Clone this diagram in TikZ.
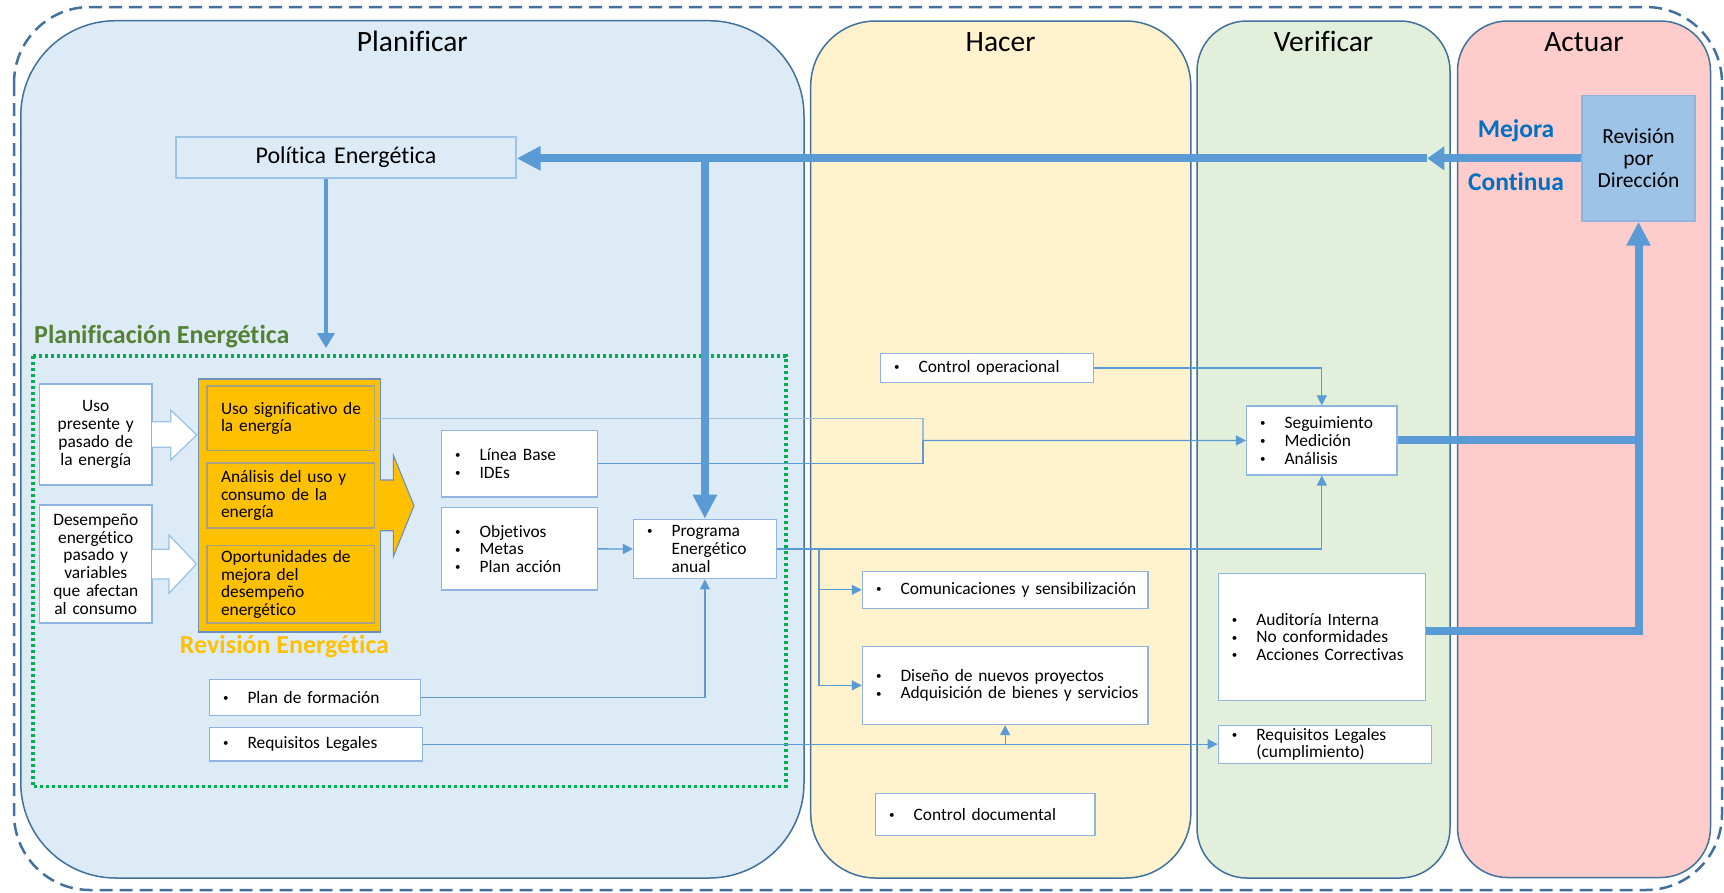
\documentclass[tikz,border=0pt]{standalone}
\usepackage{fontspec}
\setmainfont{Carlito}[Ligatures=NoCommon]
\usetikzlibrary{arrows.meta}
\definecolor{pnlb}{HTML}{41719C}
\definecolor{fplan}{HTML}{DDEBF7}
\definecolor{fhac}{HTML}{FFF2CC}
\definecolor{fver}{HTML}{E2EFDA}
\definecolor{fact}{HTML}{FFCCCC}
\definecolor{connc}{HTML}{5B9BD5}
\definecolor{connl}{HTML}{9CBFDF}
\definecolor{boxb}{HTML}{8FB4E0}
\definecolor{revf}{HTML}{9DC3E6}
\definecolor{orng}{HTML}{FFC000}
\definecolor{orngb}{HTML}{A8A27E}
\definecolor{arrb}{HTML}{6D8FBF}
\definecolor{grn}{HTML}{00B050}
\definecolor{dgrn}{HTML}{548235}
\definecolor{mejc}{HTML}{0070C0}
\newcommand\fsz[2]{\fontsize{#1}{#2}\selectfont}
\newcommand\bi[1]{\makebox[25.5pt][l]{\hspace{1pt}\raisebox{1.8pt}{\fsz{11}{11}•}}\mbox{#1}}
\newcommand\hi[1]{\hspace*{25.5pt}\mbox{#1}}
\newcommand\pbox[8][box]{%
 \pgfmathsetmacro\pbW{#6-#4}\pgfmathsetmacro\pbH{#7-#5}\pgfmathsetmacro\pbT{#6-#4-2*#3}%
 \pgfmathsetmacro\pbX{(#4+#6)/2}\pgfmathsetmacro\pbY{(#5+#7)/2}%
 \node[#1,inner xsep=#3pt,minimum width=\pbW pt,minimum height=\pbH pt,text width=\pbT pt] (#2) at (\pbX,\pbY) {#8};}
\tikzset{
 panel/.style={draw=pnlb, line width=1.5pt, rounded corners=#1},
 ptitle/.style={anchor=base, inner sep=0pt, font=\fsz{29.5}{30}},
 box/.style={draw=boxb, fill=white, line width=1.4pt, inner ysep=0pt, align=left, font=\fsz{17.4}{17.8}},
 cbox/.style={box, align=center},
 obox/.style={draw=orngb, fill=orng, line width=1.4pt, inner ysep=0pt, align=left, font=\fsz{17.4}{17.8}},
 conn/.style={draw=connc, line width=1.3pt},
 carrow/.style={conn, -{Triangle[length=10pt,width=10pt]}},
 bigline/.style={draw=connc, line width=8pt},
 bigarrow/.style={bigline, -{Triangle[length=24pt,width=23pt]}},
}
\begin{document}
\begin{tikzpicture}[x=1pt,y=-1pt]
\useasboundingbox (0,0) rectangle (1724,892);
\fill[white] (0,0) rectangle (1724,892);
% outer dashed frame
\draw[draw=pnlb, line width=2.5pt, dash pattern=on 13pt off 7pt, rounded corners=76pt] (14,7) rectangle (1722,890);
% panels
\draw[panel=95pt, fill=fplan] (20.8,20.7) rectangle (804,878);
\draw[panel=65pt, fill=fhac] (810.7,21) rectangle (1190.8,878);
\draw[panel=50pt, fill=fver] (1197,21) rectangle (1450,878);
\draw[panel=50pt, fill=fact] (1457.5,21) rectangle (1710.5,877.5);
\node[ptitle] (tplan) at (412.4,51) {Planificar};
\node[ptitle] (thac) at (1000.7,51) {Hacer};
\node[ptitle] (tver) at (1323.5,51) {Verificar};
\node[ptitle] (tact) at (1584,51) {Actuar};
% planning area
\draw[draw=grn, line width=3.5pt, dash pattern=on 3pt off 3pt] (33,356) rectangle (786,786.7);
\node[anchor=base west, inner sep=0pt, font=\bfseries\fsz{26}{26}, text=dgrn] (plab) at (34,343) {Planificación Energética};
\node[anchor=base, inner sep=0pt, font=\bfseries\fsz{26}{26}, text=orng] (rlab) at (284.5,653) {Revisión Energética};
% top boxes
\pbox[cbox, fill=fplan, draw=revf, font=\fsz{24}{26}]{pol}{2}{176}{137}{516}{178}{Política Energética}
\pbox[cbox, fill=revf, draw=boxb, font=\fsz{21.5}{22}]{revd}{2}{1582}{95.7}{1695}{221}{Revisión\\por\\Dirección}
% left inputs
\pbox[cbox]{uso}{2}{39.5}{384}{152}{485}{Uso\\presente y\\pasado de\\la energía}
\pbox[cbox]{des}{2}{39.5}{505}{152}{623}{Desempeño\\energético\\pasado y\\variables\\que afectan\\al consumo}
\draw[draw=revf, fill=white, line width=1.3pt] (152,421.7) -- (170.7,421.7) -- (170.7,410) -- (196.7,435) -- (170.7,460) -- (170.7,447.3) -- (152,447.3);
\draw[draw=revf, fill=white, line width=1.3pt] (152,549.3) -- (169,549.3) -- (169,535) -- (196.5,564) -- (169,593.3) -- (169,579) -- (152,579);
% energy review block
\pbox[obox, draw=arrb, line width=1.2pt]{revE}{2}{198.5}{379}{380.6}{632}{}
\fill[orng] (378,480) -- (393.3,480) -- (393.3,455) -- (414,505.7) -- (393.3,556.7) -- (393.3,530.7) -- (378,530.7) -- cycle;
\draw[draw=arrb, line width=1.1pt] (380.6,480) -- (393.3,480) -- (393.3,455) -- (414,505.7) -- (393.3,556.7) -- (393.3,530.7) -- (380.6,530.7);
\pbox[obox]{usig}{14}{207}{386}{374.6}{450.7}{\mbox{Uso significativo de}\\la energía}
\pbox[obox]{anal}{14}{207}{463}{374.6}{528}{\makebox[139pt][s]{Análisis del uso y}\\\makebox[139pt][s]{consumo de la}\\energía}
\pbox[obox]{opor}{14}{207}{545.7}{374.6}{623}{Oportunidades de\\mejora del\\desempeño\\energético}
% plan boxes
\pbox{lb}{12.5}{441.6}{430.3}{597.4}{497}{\bi{Línea Base}\\\bi{IDEs}}
\pbox{obj}{12.5}{441.6}{507.7}{597.4}{590}{\bi{Objetivos}\\\bi{Metas}\\\bi{Plan acción}}
\pbox{prog}{12.5}{633.6}{519.3}{776.2}{578.7}{\bi{Programa}\\\hi{Energético}\\\hi{anual}}
\pbox{pf}{12.5}{209.5}{679.7}{420.7}{715.3}{\bi{Plan de formación}}
\pbox{rl}{12.5}{209.5}{727.3}{422.4}{761}{\bi{Requisitos Legales}}
% do / check boxes
\pbox{cop}{12.5}{880.5}{353.4}{1093.7}{382.3}{\bi{Control operacional}}
\pbox{seg}{12.5}{1246.6}{406}{1397}{474.9}{\bi{Seguimiento}\\\bi{Medición}\\\bi{Análisis}}
\pbox{com}{12.5}{862.5}{571.3}{1147.8}{608.3}{\bi{Comunicaciones y sensibilización}}
\pbox{dis}{12.5}{862.5}{646.3}{1147.8}{724.5}{\bi{Diseño de nuevos proyectos}\\\bi{Adquisición de bienes y servicios}}
\pbox{cdoc}{12.5}{875.7}{793.5}{1094.9}{835.4}{\bi{Control documental}}
\pbox{aud}{12.5}{1218.3}{573.5}{1425.4}{700.2}{\bi{Auditoría Interna}\\\bi{No conformidades}\\\bi{Acciones Correctivas}}
\pbox{rlc}{12.5}{1218.3}{725.6}{1431.4}{763.2}{\bi{Requisitos Legales}\\\hi{(cumplimiento)}}
% thin connectors
\coordinate (j1) at (923,440.5);
\draw[conn, draw=connl] (usig.east) -| (j1);
\draw[conn] (lb.east) -| (j1);
\draw[carrow] (j1) -- (seg.west);
\draw[carrow] (cop.east) -| (seg.north);
\draw[carrow] (obj.east) -- (prog.west);
\draw[carrow] (pf.east) -| (prog.south);
\draw[carrow] (prog.east) -| (seg.south);
\coordinate (j2) at (819,549);
\draw[carrow] (j2) |- (com.west);
\draw[carrow] (j2) |- (dis.west);
\draw[carrow] (rl.east) -- (rl.east -| rlc.west);
\coordinate (j3) at (dis.south |- rl.east);
\draw[carrow] (j3) -- (dis.south);
% thick connectors
\coordinate (mid) at ([xshift=-154pt]revd.west);
\draw[bigline, -{Triangle[length=17pt,width=23pt]}] (revd.west) -- (mid);
\draw[bigarrow] (mid) -- (mid -| pol.east);
\coordinate (j4) at (mid -| prog.north);
\draw[bigarrow] (j4) -- (prog.north);
\coordinate (pe) at (326,348);
\draw[draw=connc, line width=3.5pt, -{Triangle[length=15pt,width=17pt]}] ([xshift=-20pt]pol.south) -- (pe);
\coordinate (j5) at (seg.east -| revd.south);
\draw[bigline] (seg.east) -- (j5);
\draw[bigarrow] ([yshift=6pt]aud.east) -| (revd.south);
% improvement label
\node[anchor=base, inner sep=0pt, font=\bfseries\fsz{25.5}{26}, text=mejc] (mej) at (1516,137.5) {Mejora};
\node[anchor=base, inner sep=0pt, font=\bfseries\fsz{25.5}{26}, text=mejc] (cont) at (1516,190.5) {Continua};
\end{tikzpicture}
\end{document}
